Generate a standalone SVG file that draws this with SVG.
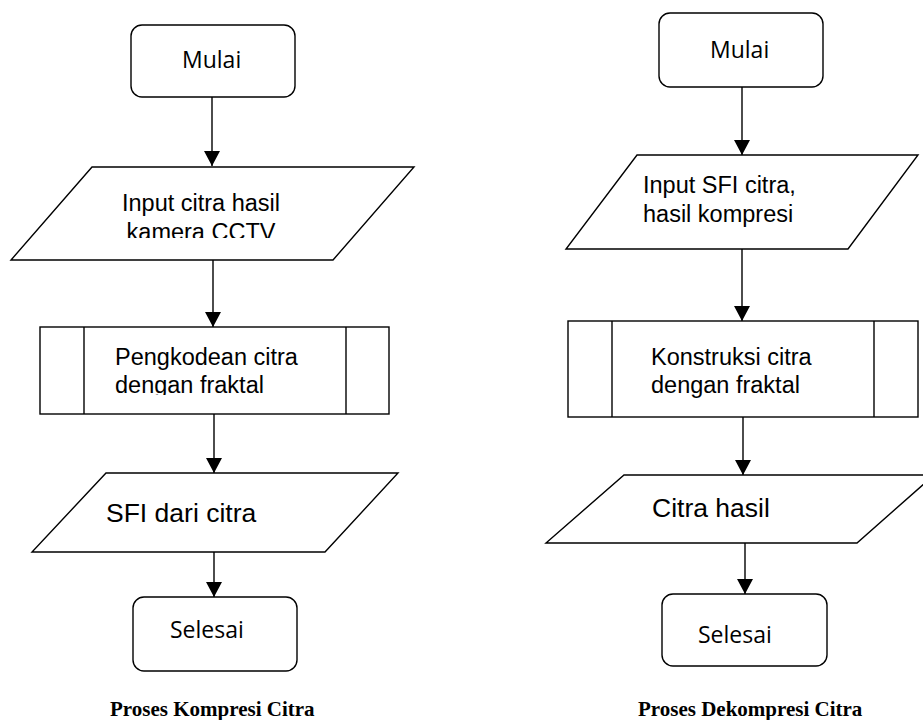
<svg xmlns="http://www.w3.org/2000/svg" width="923" height="720" viewBox="0 0 923 720">
<style>
.shape{fill:#fff;stroke:#000;stroke-width:1.4}
.line{fill:none;stroke:#000;stroke-width:1.4}
.term{font-family:"Open Sans","Noto Sans",sans-serif;font-size:23px;fill:#000}
.lbl{font-family:"Liberation Sans",Arial,sans-serif;font-size:23.5px;fill:#000}
.big{font-family:"Liberation Sans",Arial,sans-serif;font-size:26.5px;fill:#000}
.cap{font-family:"Liberation Serif","Times New Roman",serif;font-size:21px;font-weight:bold;fill:#000}
</style>
<defs>
<marker id="ah" markerUnits="userSpaceOnUse" markerWidth="15" markerHeight="16" viewBox="0 0 15 16" refX="15" refY="8" orient="auto">
<path d="M0,0 L15,8 L0,16 z" fill="#000"/>
</marker>
<clipPath id="clipIn"><rect x="0" y="160" width="460" height="78"/></clipPath>
<clipPath id="clipPk"><rect x="0" y="320" width="460" height="75"/></clipPath>
</defs>
<rect width="923" height="720" fill="#fff"/>
<g id="connectors">
<line class="line" x1="212" y1="97" x2="212" y2="166" marker-end="url(#ah)"/>
<line class="line" x1="213" y1="260" x2="213" y2="327" marker-end="url(#ah)"/>
<line class="line" x1="214" y1="414" x2="214" y2="473" marker-end="url(#ah)"/>
<line class="line" x1="214" y1="552" x2="214" y2="597" marker-end="url(#ah)"/>
<line class="line" x1="742" y1="87" x2="742" y2="155" marker-end="url(#ah)"/>
<line class="line" x1="742" y1="249" x2="742" y2="321" marker-end="url(#ah)"/>
<line class="line" x1="743" y1="417" x2="743" y2="475" marker-end="url(#ah)"/>
<line class="line" x1="745" y1="543" x2="745" y2="594" marker-end="url(#ah)"/>
</g>
<g id="mulai1">
<rect class="shape" x="131" y="25" width="164" height="72" rx="11"/>
<text class="term" x="182" y="68">Mulai</text>
</g>
<g id="input1">
<polygon class="shape" points="92,167 414,167 333,260 11,260"/>
<g clip-path="url(#clipIn)">
<text class="lbl" x="201" y="211" text-anchor="middle">Input citra hasil</text>
<text class="lbl" x="201" y="240" text-anchor="middle">kamera CCTV</text>
</g>
</g>
<g id="proses1">
<rect class="shape" x="40" y="327" width="349" height="87"/>
<line class="line" x1="84" y1="327" x2="84" y2="414"/>
<line class="line" x1="346" y1="327" x2="346" y2="414"/>
<g clip-path="url(#clipPk)">
<text class="lbl" x="115" y="365">Pengkodean citra</text>
<text class="lbl" x="115" y="393">dengan fraktal</text>
</g>
</g>
<g id="output1">
<polygon class="shape" points="106,473 398,473 325,552 32,552"/>
<text class="big" x="106" y="522">SFI dari citra</text>
</g>
<g id="selesai1">
<rect class="shape" x="133" y="597" width="164" height="74" rx="11"/>
<text class="term" x="170" y="638">Selesai</text>
</g>
<g id="mulai2">
<rect class="shape" x="659" y="13" width="164" height="74" rx="11"/>
<text class="term" x="710" y="58">Mulai</text>
</g>
<g id="input2">
<polygon class="shape" points="637,155 918,155 848,249 566,249"/>
<text class="lbl" x="643" y="193">Input SFI citra,</text>
<text class="lbl" x="643" y="222">hasil kompresi</text>
</g>
<g id="proses2">
<rect class="shape" x="568" y="321" width="350" height="96"/>
<line class="line" x1="612" y1="321" x2="612" y2="417"/>
<line class="line" x1="874" y1="321" x2="874" y2="417"/>
<text class="lbl" x="651" y="365">Konstruksi citra</text>
<text class="lbl" x="651" y="393">dengan fraktal</text>
</g>
<g id="output2">
<polygon class="shape" points="624,475 934,475 857,543 546,543"/>
<text class="big" x="652" y="517">Citra hasil</text>
</g>
<g id="selesai2">
<rect class="shape" x="662" y="594" width="165" height="72" rx="11"/>
<text class="term" x="698" y="643">Selesai</text>
</g>
<g id="captions">
<text class="cap" x="110" y="716">Proses Kompresi Citra</text>
<text class="cap" x="638" y="716">Proses Dekompresi Citra</text>
</g>
</svg>
